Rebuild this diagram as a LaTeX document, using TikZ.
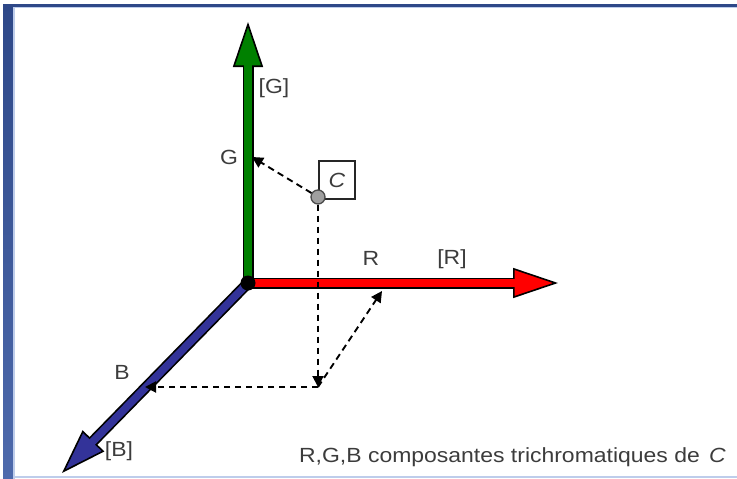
\documentclass[tikz,border=0pt]{standalone}
\usepackage{fontspec}
\setmainfont{Liberation Sans}[FakeStretch=1.12]
\usetikzlibrary{arrows.meta,positioning}
\definecolor{axgreen}{RGB}{0,128,0}
\definecolor{axred}{RGB}{255,0,0}
\definecolor{axblue}{RGB}{51,51,153}
\definecolor{framedark}{RGB}{46,72,136}
\definecolor{framelight}{RGB}{78,106,172}
\definecolor{frameedge}{RGB}{190,205,235}
\definecolor{txtgray}{RGB}{60,60,60}
\tikzset{
  axarr/.style={draw=black, line width=11pt,
    -{Triangle[length=45pt, width=30pt, line width=1.6pt, fill=#1]},
    postaction={draw=#1, line width=7.6pt, arrows=-, shorten >=42pt}},
  prj/.style={black, line width=1.9pt, dash pattern=on 6.5pt off 4.5pt,
    -{Triangle[length=11pt, width=11pt]}},
  lbl/.style={font=\fontsize{20.5}{24}\selectfont, text=txtgray, inner sep=1pt},
  cbox/.style={draw=black!85, line width=2pt, minimum width=36pt, minimum height=38pt,
    inner sep=0pt, font=\fontsize{20.5}{24}\selectfont\itshape, text=txtgray},
  orig/.style={circle, fill=black, minimum size=15pt, inner sep=0pt},
  cdot/.style={circle, fill=gray!75, draw=black!70, line width=1.3pt, minimum size=14pt, inner sep=0pt},
}

\begin{document}
\begin{tikzpicture}[x=1pt, y=-1pt]
    \useasboundingbox (0,0) rectangle (737,479);
    \shade[top color=framedark, bottom color=framelight] (3,4) rectangle (13,479);
    \fill[framedark] (3,4) rectangle (737,6.5);
    \fill[frameedge] (13,6.5) rectangle (737,8);
    \fill[frameedge] (13,6.5) rectangle (15,479);
    \fill[frameedge] (13,476) rectangle (737,478);
    \coordinate (O) at (248,283);
    \coordinate (Gtip) at (248,22);
    \coordinate (Rtip) at (558,283);
    \coordinate (Btip) at (62,473);
    \draw[axarr=axblue] (O) -- (Btip);
    \draw[axarr=axgreen] (O) -- (Gtip);
    \draw[axarr=axred] (O) -- (Rtip);
    \node[orig] (o) at (O) {};
    \node[cbox, anchor=south west] (cb) at (318,200) {C};
    \node[cdot] (cpt) at (318,197) {};
    \coordinate (P) at (318,387);
    \coordinate (Gp) at (252,157);
    \coordinate (Rp) at (382,291);
    \coordinate (Bp) at (145,387);
    \draw[prj] (cpt) -- (Gp);
    \draw[prj] (cpt) -- (P);
    \draw[prj] (P) -- (Rp);
    \draw[prj] (P) -- (Bp);
    \node[lbl] (lG) at (229,157) {G};
    \node[lbl] (lGG) at (274,88) {[G]};
    \node[lbl] (lR) at (371,258) {R};
    \node[lbl] (lRR) at (452,259) {[R]};
    \node[lbl] (lB) at (122,372) {B};
    \node[lbl] (lBB) at (119,451) {[B]};
    \node[lbl, anchor=base east] (capt) at (727,462)
      {R,G,B composantes trichromatiques de\hspace{0.45em}\textit{C}};
\end{tikzpicture}
\end{document}
